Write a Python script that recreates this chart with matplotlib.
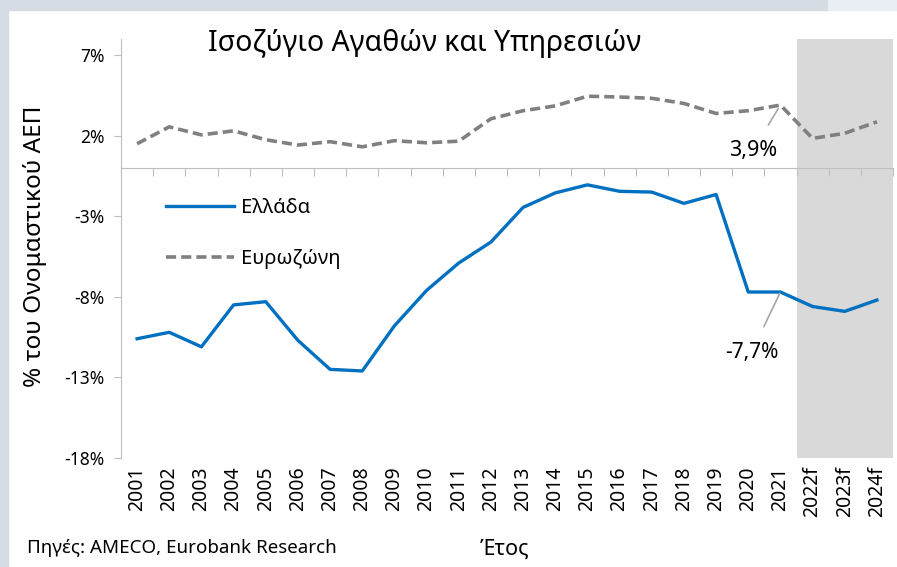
import matplotlib
matplotlib.use("Agg")
from matplotlib import pyplot as plt
from matplotlib import patches

plt.rcParams["font.family"] = ["Noto Sans", "DejaVu Sans"]

years = ["2001", "2002", "2003", "2004", "2005", "2006", "2007", "2008",
         "2009", "2010", "2011", "2012", "2013", "2014", "2015", "2016",
         "2017", "2018", "2019", "2020", "2021", "2022f", "2023f", "2024f"]

greece = [-10.6, -10.2, -11.1, -8.5, -8.3, -10.7, -12.5, -12.6,
          -9.8, -7.6, -5.9, -4.6, -2.45, -1.55, -1.05, -1.45,
          -1.5, -2.2, -1.65, -7.7, -7.7, -8.6, -8.9, -8.2]
eurozone = [1.5, 2.55, 2.05, 2.3, 1.75, 1.42, 1.63, 1.31,
            1.69, 1.56, 1.66, 3.05, 3.55, 3.85, 4.45, 4.4,
            4.32, 4.0, 3.38, 3.55, 3.9, 1.83, 2.15, 2.86]

yticks = [7, 2, -3, -8, -13, -18]
forecast_from = 21  # index of first forecast year

BLUE = "#0070c0"
GREY = "#808080"
FRAME = "#d5dce4"

fig = plt.figure(figsize=(8.97, 5.67), dpi=100)
fig.patch.set_facecolor("white")

# page frame bits around the chart
fig.patches.append(patches.Rectangle((0, 0), 8 / 897, 1, transform=fig.transFigure,
                                     color=FRAME, zorder=0))
fig.patches.append(patches.Rectangle((0, 1 - 10 / 567), 828 / 897, 10 / 567,
                                     transform=fig.transFigure, color=FRAME, zorder=0))
fig.patches.append(patches.Rectangle((828 / 897, 1 - 10 / 567), 69 / 897, 10 / 567,
                                     transform=fig.transFigure, color="#e9edf4", zorder=0))

ax = fig.add_axes([121 / 897, 1 - 458 / 567, 772 / 897, 419 / 567])
x = list(range(len(years)))

ax.axvspan(forecast_from - 0.5, len(years) - 0.5, color="#d9d9d9", lw=0, zorder=0)

ax.plot(x, greece, color=BLUE, lw=2.4, label="Ελλάδα", zorder=3)
ax.plot(x, eurozone, color=GREY, lw=2.6, dashes=(2.8, 1.4), label="Ευρωζώνη", zorder=3)

ax.set_xlim(-0.5, len(years) - 0.5)
ax.set_ylim(-18, 8)
ax.set_yticks(yticks, labels=[f"{v}%" for v in yticks])

for s in ["top", "right"]:
    ax.spines[s].set_visible(False)
ax.spines["left"].set_color("#bfbfbf")
ax.spines["bottom"].set_color("#bfbfbf")
ax.spines["bottom"].set_position(("data", 0))
ax.spines["left"].set_bounds(-18, 8)

# category boundaries as ticks on the zero line
ax.set_xticks([i - 0.5 for i in range(len(years) + 1)])
ax.tick_params(axis="x", direction="out", length=6, color="#bfbfbf", labelbottom=False)
ax.tick_params(axis="y", direction="out", length=5, color="#bfbfbf", labelsize=12.5,
               pad=7)

sec = ax.secondary_xaxis("bottom")
sec.set_xticks(x, labels=years, rotation=90)
sec.tick_params(length=0, pad=6, labelsize=14)
sec.spines["bottom"].set_visible(False)

ax.legend(loc="upper left", bbox_to_anchor=(0.045, 0.645), frameon=False,
          fontsize=14.5, handlelength=3.4, handletextpad=0.35, labelspacing=1.55,
          borderpad=0)

ax.annotate("3,9%", xy=(20, 3.9), xytext=(19.15, 1.1), ha="center", va="center",
            fontsize=15.5,
            arrowprops=dict(arrowstyle="-", color="#a6a6a6", lw=1.2,
                            shrinkA=10, shrinkB=3))
ax.annotate("-7,7%", xy=(20, -7.7), xytext=(19.1, -11.45), ha="center", va="center",
            fontsize=15,
            arrowprops=dict(arrowstyle="-", color="#a6a6a6", lw=1.2,
                            shrinkA=10, shrinkB=1))

fig.text(425 / 897, 1 - 44 / 567, "Ισοζύγιο Αγαθών και Υπηρεσιών", ha="center",
         va="center", fontsize=20.5)
fig.text(35 / 897, 1 - 246 / 567, "% του Ονομαστικού ΑΕΠ", rotation=90, ha="center",
         va="center", fontsize=17.5)
fig.text(505 / 897, 1 - 549 / 567, "Έτος", ha="center", va="center", fontsize=15.5)
fig.text(27 / 897, 1 - 548 / 567, "Πηγές: AMECO, Eurobank Research", ha="left",
         va="center", fontsize=13.5)

fig.savefig("out.png", dpi=100)
